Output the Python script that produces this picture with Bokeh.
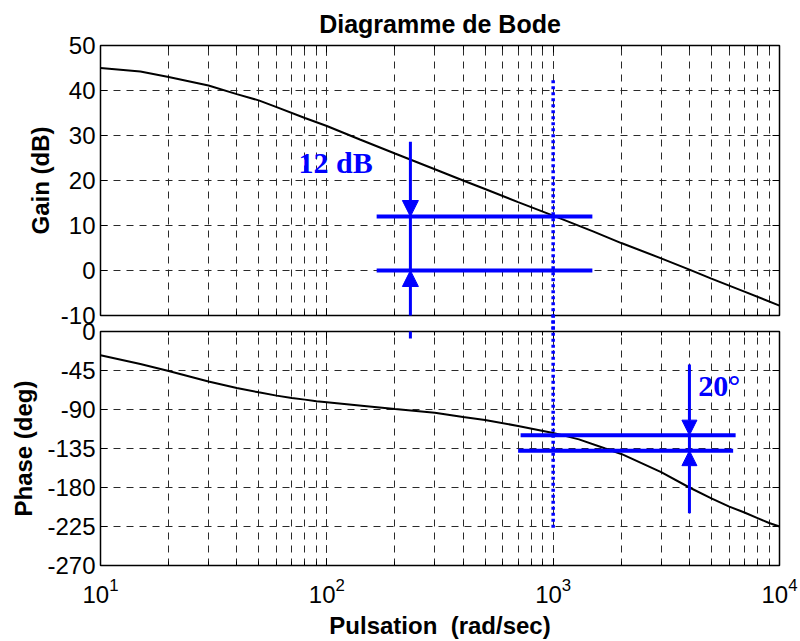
from bokeh.plotting import figure
from bokeh.models import (Range1d, FixedTicker, LogAxis, LinearAxis, LogTicker,
                          CustomJSTickFormatter, Arrow, NormalHead, Label)
from bokeh.layouts import column
from bokeh.embed import file_html
from bokeh.resources import INLINE

# ---------------- data ----------------
freq_gain = [10, 15, 20, 30, 40, 50, 60, 80, 100, 140, 200, 300, 400, 500,
             700, 1000, 1500, 2000, 3000, 4000, 5000, 7000, 10000]
gain_db = [45.0, 44.2, 43.0, 41.1, 39.2, 37.8, 36.3, 33.9, 32.1, 29.1, 26.0,
           22.5, 20.0, 18.1, 15.2, 12.2, 8.7, 6.1, 2.7, 0.2, -1.8, -4.7, -7.8]

freq_phase = [10, 15, 20, 30, 40, 50, 60, 70, 80, 90, 100, 150, 200, 300, 400,
              500, 700, 1000, 1300, 1700, 2000, 3000, 4000, 5000, 6000, 7000,
              8000, 9000, 10000]
phase_deg = [-27.3, -37.5, -45.6, -57.7, -65.3, -70.2, -74.0, -76.7, -78.6,
             -80.5, -81.7, -86.3, -89.5, -93.7, -98.6, -102.0, -109.0, -117.0,
             -124.5, -135.0, -141.3, -162.2, -180.0, -192.5, -202.0, -208.8,
             -215.3, -221.0, -225.0]

gain_ticks = [-10, 0, 10, 20, 30, 40, 50]
phase_ticks = [-270, -225, -180, -135, -90, -45, 0]

# annotation values
gain_levels = [12, 0]
gain_levels_x = [166, 1490]
gain_arrow_x = 234
gain_arrow_top = 28.6
gain_arrow_bottom_phase = -8
cross_x = 1000
cross_top_gain = 42.3
cross_bottom_phase = -227
phase_levels = [-119.6, -137.5]
phase_levels_x0 = [718, 700]
phase_levels_x1 = [6400, 6240]
phase_arrow_x = 4000
phase_arrow_top = -38
phase_arrow_bottom = -209.6
label_gain = ("12 dB", 75, 24.0)
label_phase = ("20\u00b0", 4375, -62)

BLUE = "#0000ff"
GRID = "#2a2a2a"
FONT = "Liberation Sans"
W = 800

blank = CustomJSTickFormatter(code="return ''")
plain = CustomJSTickFormatter(code="return String(tick)")


def style(p, yticks):
    p.outline_line_color = "black"
    p.outline_line_width = 1.5
    p.xgrid.grid_line_color = GRID
    p.xgrid.grid_line_dash = "7 6"
    p.xgrid.minor_grid_line_color = GRID
    p.xgrid.minor_grid_line_dash = "7 6"
    p.ygrid.grid_line_color = GRID
    p.ygrid.grid_line_dash = "7 6"
    p.ygrid.ticker = FixedTicker(ticks=yticks)
    ya = p.left[0]
    ya.ticker = FixedTicker(ticks=yticks, minor_ticks=[])
    ya.formatter = plain
    ya.major_tick_in = 7
    ya.major_tick_out = 0
    ya.minor_tick_line_color = None
    ya.major_label_text_font = FONT
    ya.major_label_text_font_size = "24px"
    ya.major_label_text_color = "black"
    ya.major_label_standoff = 5
    ya.axis_label_text_font = FONT
    ya.axis_label_text_font_size = "24px"
    ya.axis_label_text_font_style = "bold"
    ya.axis_label_text_color = "black"
    xa = p.below[0]
    xa.major_tick_in = 7
    xa.major_tick_out = 0
    xa.minor_tick_in = 4
    xa.minor_tick_out = 0
    xa.major_label_text_font = FONT
    xa.major_label_text_font_size = "24px"
    xa.major_label_text_color = "black"
    xa.axis_label_text_color = "black"
    ra = LinearAxis(ticker=FixedTicker(ticks=yticks, minor_ticks=[]),
                    formatter=blank, major_label_text_font_size="0px",
                    major_label_standoff=0, major_tick_in=7, major_tick_out=0,
                    minor_tick_line_color=None)
    p.add_layout(ra, "right")
    ta = LogAxis(ticker=LogTicker(num_minor_ticks=10), formatter=blank,
                 major_label_text_font_size="0px", major_label_standoff=0,
                 major_tick_in=7, major_tick_out=0, minor_tick_in=4,
                 minor_tick_out=0)
    p.add_layout(ta, "above")
    return xa, ya


# ---------------- top: gain ----------------
xr = Range1d(10, 10000)
top = figure(width=W, height=335, x_axis_type="log", x_range=xr,
             y_range=Range1d(-10, 50), output_backend="svg",
             toolbar_location=None, min_border_left=100, min_border_right=21,
             min_border_top=45, min_border_bottom=20)
txa, tya = style(top, gain_ticks)
tya.axis_label = "Gain (dB)"
tya.axis_label_standoff = 4
txa.formatter = blank
txa.major_label_text_font_size = "0px"
txa.major_label_standoff = 0
top.title.text = "Diagramme de Bode"
top.title.align = "center"
top.title.text_font = FONT
top.title.text_font_size = "25px"
top.title.text_font_style = "bold"
top.title.text_color = "black"
top.title.standoff = 15

top.line(freq_gain, gain_db, line_color="black", line_width=2)
top.segment(x0=[gain_levels_x[0]] * 2, y0=gain_levels,
            x1=[gain_levels_x[1]] * 2, y1=gain_levels,
            line_color=BLUE, line_width=4)
top.segment(x0=[cross_x], y0=[cross_top_gain], x1=[cross_x], y1=[-20],
            line_color=BLUE, line_width=3.5, line_dash="3 3", level="overlay")
top.add_layout(Arrow(end=NormalHead(size=16, fill_color=BLUE, line_color=BLUE),
                     x_start=gain_arrow_x, y_start=gain_arrow_top,
                     x_end=gain_arrow_x, y_end=gain_levels[0],
                     line_color=BLUE, line_width=3))
top.add_layout(Arrow(end=None, x_start=gain_arrow_x, y_start=gain_levels[0],
                     x_end=gain_arrow_x, y_end=gain_levels[1],
                     line_color=BLUE, line_width=3))
top.add_layout(Arrow(end=NormalHead(size=16, fill_color=BLUE, line_color=BLUE),
                     x_start=gain_arrow_x, y_start=-20,
                     x_end=gain_arrow_x, y_end=gain_levels[1],
                     line_color=BLUE, line_width=3))
top.add_layout(Label(x=label_gain[1], y=label_gain[2], text=label_gain[0],
                     text_font="Liberation Serif", text_font_style="bold",
                     text_font_size="30px", text_color=BLUE,
                     text_baseline="middle"))

# ---------------- bottom: phase ----------------
bot = figure(width=W, height=325, x_axis_type="log", x_range=xr,
             y_range=Range1d(-270, 0), output_backend="svg",
             toolbar_location=None, min_border_left=100, min_border_right=21,
             min_border_top=15, min_border_bottom=73)
bot.border_fill_color = None
bot.margin = (-19, 0, 0, 0)
bxa, bya = style(bot, phase_ticks)
bya.axis_label = "Phase (deg)"
bya.axis_label_standoff = 7
bxa.axis_label = "Pulsation \u00a0(rad/sec)"
bxa.axis_label_text_font = FONT
bxa.axis_label_text_font_size = "24px"
bxa.axis_label_text_font_style = "bold"
bxa.axis_label_standoff = 6
bxa.major_label_standoff = 12

bot.line(freq_phase, phase_deg, line_color="black", line_width=2)
bot.segment(x0=phase_levels_x0, y0=phase_levels, x1=phase_levels_x1,
            y1=phase_levels, line_color=BLUE, line_width=4)
bot.segment(x0=[cross_x], y0=[40], x1=[cross_x], y1=[cross_bottom_phase],
            line_color=BLUE, line_width=3.5, line_dash="3 3", level="overlay")
bot.add_layout(Arrow(end=None, x_start=gain_arrow_x, y_start=gain_arrow_bottom_phase,
                     x_end=gain_arrow_x, y_end=40, line_color=BLUE, line_width=3))
bot.add_layout(Arrow(end=NormalHead(size=15, fill_color=BLUE, line_color=BLUE),
                     x_start=phase_arrow_x, y_start=phase_arrow_top,
                     x_end=phase_arrow_x, y_end=phase_levels[0],
                     line_color=BLUE, line_width=3))
bot.add_layout(Arrow(end=None, x_start=phase_arrow_x, y_start=phase_levels[0],
                     x_end=phase_arrow_x, y_end=phase_levels[1],
                     line_color=BLUE, line_width=3))
bot.add_layout(Arrow(end=NormalHead(size=15, fill_color=BLUE, line_color=BLUE),
                     x_start=phase_arrow_x, y_start=phase_arrow_bottom,
                     x_end=phase_arrow_x, y_end=phase_levels[1],
                     line_color=BLUE, line_width=3))
bot.add_layout(Label(x=label_phase[1], y=label_phase[2], text=label_phase[0],
                     text_font="Liberation Serif", text_font_style="bold",
                     text_font_size="30px", text_color=BLUE,
                     text_baseline="middle"))

layout = column(top, bot)
open("out.html", "w").write(file_html(layout, INLINE))
